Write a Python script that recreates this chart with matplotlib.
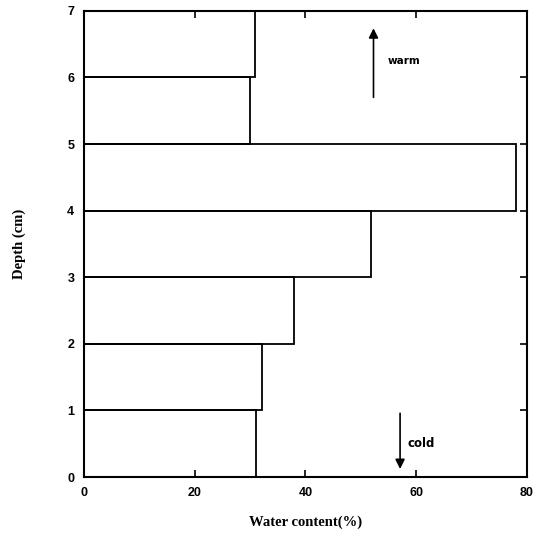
import matplotlib
matplotlib.use("Agg")
import matplotlib.pyplot as plt

depth_bottoms = [0, 1, 2, 3, 4, 5, 6]
water_content = [31.0, 32.2, 38.0, 51.9, 78.0, 29.9, 30.8]
x_ticks = [0, 20, 40, 60, 80]
y_ticks = [0, 1, 2, 3, 4, 5, 6, 7]

fig = plt.figure(figsize=(5.4, 5.44), dpi=100)
ax = fig.add_axes([0.1556, 0.123, 0.82, 0.857])

ax.barh(depth_bottoms, water_content, height=1, align='edge', fill=False,
        edgecolor='black', linewidth=1.3)

ax.set_xlim(0, 80)
ax.set_ylim(0, 7)
ax.set_xticks(x_ticks)
ax.set_yticks(y_ticks)
ax.tick_params(direction='in', top=True, right=True, length=5, width=1.2,
               labelsize=9, pad=7)
for lab in ax.get_xticklabels() + ax.get_yticklabels():
    lab.set_fontweight('bold')
    lab.set_family('Liberation Sans')
for s in ax.spines.values():
    s.set_linewidth(1.5)

ax.set_xlabel('Water content(%)', fontsize=10.5, fontweight='bold',
              family='Liberation Serif', labelpad=12)
ax.set_ylabel('Depth (cm)', fontsize=10.5, fontweight='bold',
              family='Liberation Serif', labelpad=30)

ax.annotate('', xy=(52.3, 6.78), xytext=(52.3, 5.66),
            arrowprops=dict(arrowstyle='-|>', color='black', lw=1.2,
                            mutation_scale=14))
ax.text(54.8, 6.25, 'warm', fontsize=7.5, fontweight='bold',
        family='DejaVu Sans', va='center', ha='left')
ax.annotate('', xy=(57.1, 0.08), xytext=(57.1, 1.0),
            arrowprops=dict(arrowstyle='-|>', color='black', lw=1.2,
                            mutation_scale=14))
ax.text(58.4, 0.5, 'cold', fontsize=8.5, fontweight='bold',
        family='DejaVu Sans', va='center', ha='left')

fig.savefig('out.png', dpi=100)
